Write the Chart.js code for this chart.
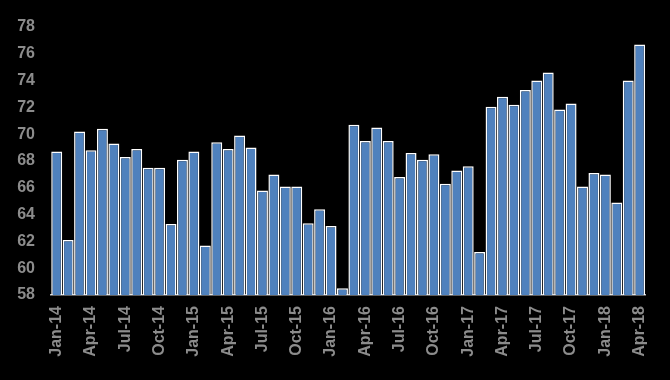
<!DOCTYPE html>
<html>
<head>
<meta charset="utf-8">
<script src="https://cdn.jsdelivr.net/npm/chart.js@4/dist/chart.umd.min.js"></script>
<style>
html,body{margin:0;padding:0;background:#000;}
#wrap{width:670px;height:380px;position:relative;}
</style>
</head>
<body>
<div id="wrap"><canvas id="c" width="670" height="380"></canvas></div>
<script>
const months = [
  "Jan-14","Feb-14","Mar-14","Apr-14","May-14","Jun-14","Jul-14","Aug-14","Sep-14","Oct-14","Nov-14","Dec-14",
  "Jan-15","Feb-15","Mar-15","Apr-15","May-15","Jun-15","Jul-15","Aug-15","Sep-15","Oct-15","Nov-15","Dec-15",
  "Jan-16","Feb-16","Mar-16","Apr-16","May-16","Jun-16","Jul-16","Aug-16","Sep-16","Oct-16","Nov-16","Dec-16",
  "Jan-17","Feb-17","Mar-17","Apr-17","May-17","Jun-17","Jul-17","Aug-17","Sep-17","Oct-17","Nov-17","Dec-17",
  "Jan-18","Feb-18","Mar-18","Apr-18"
];
const values = [
  68.7,62.1,70.2,68.8,70.4,69.3,68.3,68.9,67.5,67.5,63.3,68.1,
  68.7,61.7,69.4,68.9,69.9,69.0,65.8,67.0,66.1,66.1,63.35,64.4,
  63.15,58.5,70.7,69.5,70.5,69.5,66.8,68.6,68.1,68.5,66.3,67.3,
  67.6,61.2,72.05,72.8,72.2,73.3,74.0,74.6,71.85,72.3,66.1,67.1,
  67.0,64.9,74.0,76.7
];
const shownLabels = ["Jan-14","Apr-14","Jul-14","Oct-14","Jan-15","Apr-15","Jul-15","Oct-15",
  "Jan-16","Apr-16","Jul-16","Oct-16","Jan-17","Apr-17","Jul-17","Oct-17","Jan-18","Apr-18"];
const yMin = 58, yMax = 78, yStep = 2;

const tickFont = {family: "'Liberation Sans', Arial, sans-serif", size: 16, weight: 'bold'};
new Chart(document.getElementById('c'), {
  type: 'bar',
  data: {
    labels: months,
    datasets: [{
      data: values,
      backgroundColor: '#4f81bd',
      borderColor: '#ffffff',
      borderWidth: 1.5,
      barPercentage: 0.96,
      categoryPercentage: 1.0
    }]
  },
  options: {
    responsive: false,
    animation: false,
    layout: {padding: {top: 27, right: 15, bottom: 0, left: 0}},
    plugins: {legend: {display: false}, tooltip: {enabled: false}},
    scales: {
      x: {
        grid: {display: false, drawTicks: false},
        border: {display: true, color: '#bfbfbf', width: 1.5},
        ticks: {
          autoSkip: false,
          maxRotation: 90,
          minRotation: 90,
          padding: 11,
          color: '#8c8c8c',
          font: tickFont,
          callback: function(v, i) { const l = months[i]; return shownLabels.includes(l) ? l : ''; }
        },
        afterFit: function(s) { s.height = 85; }
      },
      y: {
        min: yMin, max: yMax,
        grid: {display: false, drawTicks: false},
        border: {display: false},
        ticks: {stepSize: yStep, padding: 16, color: '#8c8c8c', font: tickFont},
        afterFit: function(s) { s.width = 51; }
      }
    }
  }
});
</script>
</body>
</html>
